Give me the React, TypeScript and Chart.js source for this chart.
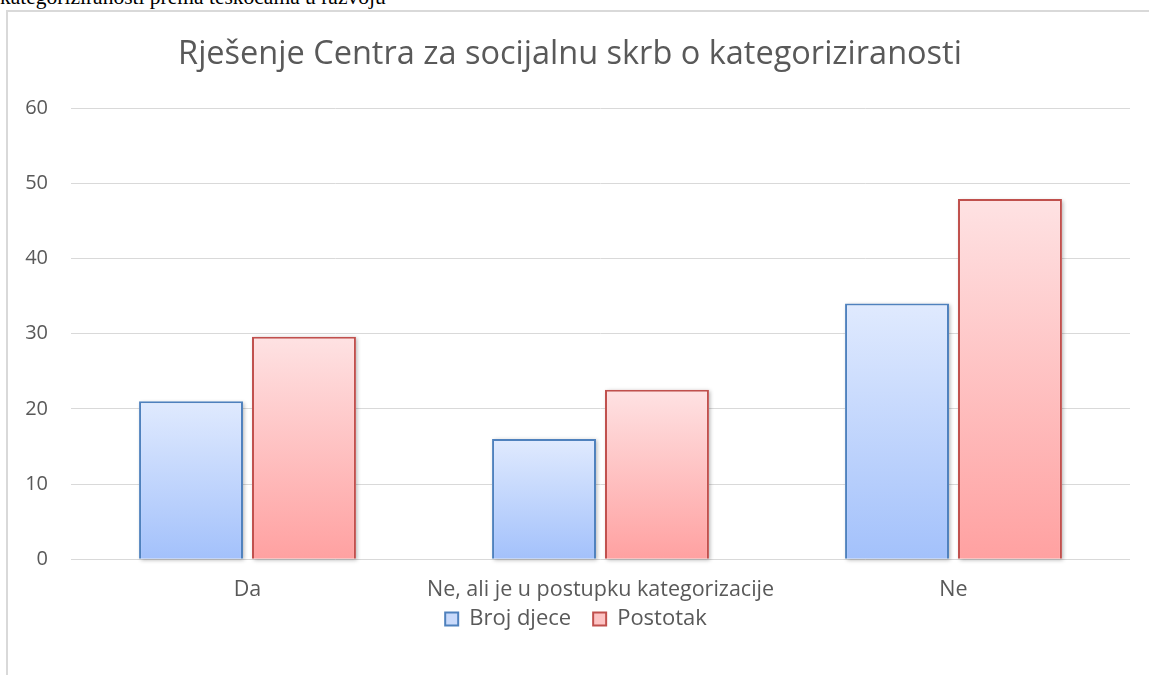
import React, { useEffect, useRef } from "react";
import { Chart, registerables } from "chart.js";

Chart.register(...registerables);

const captionText = "kategoriziranosti prema teškoćama u razvoju";
const chartTitle = "Rješenje Centra za socijalnu skrb o kategoriziranosti";
const categories = ["Da", "Ne, ali je u postupku kategorizacije", "Ne"];
const seriesNames = ["Broj djece", "Postotak"];
const brojDjece = [21, 16, 34];
const postotak = [29.58, 22.54, 47.89];
const yTicksMax = 60;
const yTickStep = 10;

const FONT = '"Open Sans", "Noto Sans", sans-serif';
const TEXT = "#595959";

const blue = { top: "#e0eafe", bottom: "#a3c1fb", border: "#4f81bd", legend: "#c9dafb" };
const red = { top: "#fee2e3", bottom: "#ffa1a1", border: "#c0504d", legend: "#fdc3c3" };

function gradientFor(colors: typeof blue) {
  return (ctx: any) => {
    const chart = ctx.chart;
    if (!chart.chartArea || ctx.type !== "data") return colors.legend;
    const ys = chart.scales.y;
    const top = ys.getPixelForValue(ctx.parsed.y);
    const bottom = ys.getPixelForValue(0);
    const g = chart.ctx.createLinearGradient(0, top, 0, bottom);
    g.addColorStop(0, colors.top);
    g.addColorStop(1, colors.bottom);
    return g;
  };
}

const titlePlugin = {
  id: "customTitle",
  afterDraw(chart: any) {
    const c = chart.ctx;
    c.save();
    c.font = `32.5px ${FONT}`;
    c.fillStyle = TEXT;
    c.textAlign = "center";
    c.textBaseline = "alphabetic";
    c.fillText(chartTitle, 562, 52);
    c.restore();
  },
};

const legendShift = {
  id: "legendShift",
  afterLayout(chart: any) {
    const lg = chart.legend;
    if (lg) {
      lg.top -= 35;
      lg.bottom -= 35;
    }
  },
};

const shadowPlugin = {
  id: "barShadow",
  beforeDatasetsDraw(chart: any) {
    const c = chart.ctx;
    chart.data.datasets.forEach((_: any, i: number) => {
      const meta = chart.getDatasetMeta(i);
      meta.data.forEach((el: any) => {
        const { x, y, base, width } = el.getProps(["x", "y", "base", "width"], true);
        c.save();
        c.shadowColor = "rgba(0,0,0,0.3)";
        c.shadowBlur = 4;
        c.shadowOffsetX = 1.5;
        c.shadowOffsetY = 1.5;
        c.fillStyle = "#ffffff";
        c.fillRect(x - width / 2, y, width, base - y);
        c.restore();
      });
    });
  },
};

export default function App() {
  const ref = useRef<HTMLCanvasElement>(null);
  useEffect(() => {
    document.body.style.overflow = "hidden";
    const chart = new Chart(ref.current!, {
      type: "bar",
      data: {
        labels: categories,
        datasets: [
          {
            label: seriesNames[0],
            data: brojDjece,
            backgroundColor: gradientFor(blue),
            borderColor: blue.border,
            borderWidth: 2,
            categoryPercentage: 0.64,
            barPercentage: 0.92,
          },
          {
            label: seriesNames[1],
            data: postotak,
            backgroundColor: gradientFor(red),
            borderColor: red.border,
            borderWidth: 2,
            categoryPercentage: 0.64,
            barPercentage: 0.92,
          },
        ],
      },
      options: {
        responsive: false,
        animation: false,
        layout: { padding: { left: 14, right: 19, top: 96, bottom: 0 } },
        plugins: {
          title: { display: false },
          tooltip: { enabled: false },
          legend: {
            position: "bottom",
            labels: {
              boxWidth: 13,
              boxHeight: 13,
              padding: 22,
              color: TEXT,
              font: { family: FONT, size: 22 },
              generateLabels: (ch: any) =>
                ch.data.datasets.map((ds: any, i: number) => ({
                  text: ds.label,
                  fillStyle: i === 0 ? blue.legend : red.legend,
                  strokeStyle: i === 0 ? blue.border : red.border,
                  lineWidth: 2,
                  fontColor: TEXT,
                  hidden: false,
                  datasetIndex: i,
                })),
            },
          },
        },
        scales: {
          x: {
            grid: { display: false, drawTicks: false },
            border: { display: false },
            ticks: { color: TEXT, font: { family: FONT, size: 21.5 }, padding: 18, maxRotation: 0, autoSkip: false },
          },
          y: {
            min: 0,
            max: yTicksMax,
            grid: { color: "#d9d9d9", lineWidth: 1, drawTicks: false },
            border: { display: false },
            ticks: { stepSize: yTickStep, color: TEXT, font: { family: FONT, size: 20 }, padding: 23 },
            afterFit: (s: any) => {
              s.width = 49;
            },
          },
        },
      },
      plugins: [shadowPlugin, titlePlugin, legendShift],
    });
    return () => chart.destroy();
  }, []);

  return (
    <div>
      <div
        style={{
          position: "absolute",
          left: 0,
          top: -13,
          fontFamily: '"Liberation Serif", "Times New Roman", serif',
          fontSize: "21.5px",
          lineHeight: "21px",
          whiteSpace: "nowrap",
          color: "#000",
        }}
      >
        {captionText}
      </div>
      <div
        style={{
          position: "absolute",
          left: 6,
          top: 10,
          width: 1143,
          height: 665,
          boxSizing: "border-box",
          borderLeft: "2px solid #d9d9d9",
          borderTop: "2px solid #d9d9d9",
          background: "#fff",
          overflow: "hidden",
        }}
      >
        <canvas ref={ref} width={1141} height={663} style={{ display: "block", width: 1141, height: 663 }} />
      </div>
    </div>
  );
}
